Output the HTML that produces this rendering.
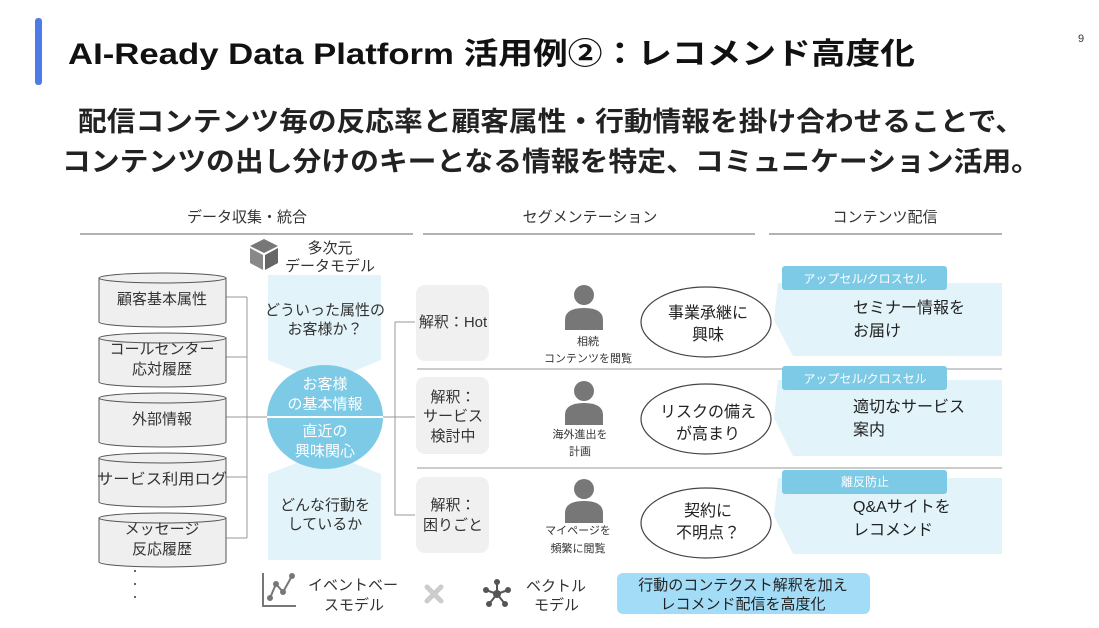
<!DOCTYPE html>
<html><head><meta charset="utf-8">
<style>
html,body{margin:0;padding:0;background:#fff;}
svg{display:block;font-family:"Liberation Sans","Noto Sans CJK JP",sans-serif;}
</style></head>
<body>
<svg width="1099" height="628" viewBox="0 0 1099 628" xmlns="http://www.w3.org/2000/svg">
<!-- title -->
<rect x="35" y="18" width="7" height="67" rx="3" fill="#4f7be8"/>
<text x="68" y="64" font-size="30" font-weight="bold" fill="#111" textLength="847" lengthAdjust="spacingAndGlyphs">AI-Ready Data Platform 活用例②：レコメンド高度化</text>
<text x="1078" y="42" font-size="11" fill="#333">9</text>
<text x="78" y="131" font-size="27" font-weight="bold" fill="#222" textLength="946" lengthAdjust="spacingAndGlyphs">配信コンテンツ毎の反応率と顧客属性・行動情報を掛け合わせることで、</text>
<text x="62" y="171" font-size="27" font-weight="bold" fill="#222" textLength="978" lengthAdjust="spacingAndGlyphs">コンテンツの出し分けのキーとなる情報を特定、コミュニケーション活用。</text>

<!-- headers -->
<g font-size="15" fill="#333" text-anchor="middle">
<text x="247" y="222">データ収集・統合</text>
<text x="590" y="222">セグメンテーション</text>
<text x="885" y="222">コンテンツ配信</text>
</g>
<g stroke="#666" stroke-width="1">
<line x1="80" y1="234" x2="413" y2="234"/>
<line x1="423" y1="234" x2="755" y2="234"/>
<line x1="769" y1="234" x2="1002" y2="234"/>
</g>

<!-- connectors left -->
<g stroke="#999" stroke-width="1" fill="none">
<line x1="226" y1="297" x2="247" y2="297"/>
<line x1="226" y1="357" x2="247" y2="357"/>
<line x1="226" y1="477" x2="247" y2="477"/>
<line x1="226" y1="538" x2="247" y2="538"/>
<line x1="247" y1="297" x2="247" y2="538"/>
<line x1="226" y1="417" x2="415" y2="417"/>
<polyline points="415,322 395,322 395,515 415,515"/>
</g>

<!-- cylinders -->
<g stroke="#555" stroke-width="1" fill="#efefef">
<path d="M99,278 v44 a63.5,5 0 0 0 127,0 v-44"/><ellipse cx="162.5" cy="278" rx="63.5" ry="5"/>
<path d="M99,338 v44 a63.5,5 0 0 0 127,0 v-44"/><ellipse cx="162.5" cy="338" rx="63.5" ry="5"/>
<path d="M99,398 v44 a63.5,5 0 0 0 127,0 v-44"/><ellipse cx="162.5" cy="398" rx="63.5" ry="5"/>
<path d="M99,458 v44 a63.5,5 0 0 0 127,0 v-44"/><ellipse cx="162.5" cy="458" rx="63.5" ry="5"/>
<path d="M99,518 v44 a63.5,5 0 0 0 127,0 v-44"/><ellipse cx="162.5" cy="518" rx="63.5" ry="5"/>
</g>
<g font-size="15" fill="#333" text-anchor="middle">
<text x="162" y="304">顧客基本属性</text>
<text x="162" y="354">コールセンター</text>
<text x="162" y="374">応対履歴</text>
<text x="162" y="424">外部情報</text>
<text x="162" y="484" textLength="130" lengthAdjust="spacingAndGlyphs">サービス利用ログ</text>
<text x="162" y="534">メッセージ</text>
<text x="162" y="554">反応履歴</text>
</g>
<g fill="#333"><circle cx="135" cy="571" r="1"/><circle cx="135" cy="584" r="1"/><circle cx="135" cy="597" r="1"/></g>

<!-- cube icon -->
<g fill="#777"><polygon points="264,239 278,246 264,253 250,246"/><polygon points="250,248 263,255 263,270 250,263" fill="#888"/><polygon points="265,255 278,248 278,263 265,270" fill="#666"/></g>
<g font-size="15" fill="#333" text-anchor="middle"><text x="330" y="253">多次元</text><text x="330" y="271">データモデル</text></g>

<!-- light blue column -->
<polygon points="268,275 381,275 381,360 325,383 268,360" fill="#e2f3f9"/>
<polygon points="268,474 325,452 381,474 381,560 268,560" fill="#e2f3f9"/>
<g font-size="15" fill="#333" text-anchor="middle">
<text x="325" y="315">どういった属性の</text>
<text x="325" y="334">お客様か？</text>
<text x="325" y="510">どんな行動を</text>
<text x="325" y="529">しているか</text>
</g>
<ellipse cx="325" cy="417" rx="58" ry="52" fill="#7ccae6"/>
<line x1="267" y1="417" x2="383" y2="417" stroke="#fff" stroke-width="2"/>
<g font-size="15" fill="#fff" text-anchor="middle">
<text x="325" y="389">お客様</text>
<text x="325" y="409">の基本情報</text>
<text x="325" y="436">直近の</text>
<text x="325" y="456">興味関心</text>
</g>

<!-- separators -->
<g stroke="#999" stroke-width="1">
<line x1="417" y1="369" x2="1002" y2="369"/>
<line x1="417" y1="468" x2="1002" y2="468"/>
</g>

<!-- interpretation boxes -->
<g fill="#f0f0f0">
<rect x="416" y="285" width="73" height="76" rx="9"/>
<rect x="416" y="377" width="73" height="77" rx="9"/>
<rect x="416" y="477" width="73" height="76" rx="9"/>
</g>
<g font-size="15" fill="#333" text-anchor="middle">
<text x="453" y="327">解釈：Hot</text>
<text x="453" y="402">解釈：</text><text x="453" y="421">サービス</text><text x="453" y="441">検討中</text>
<text x="453" y="510">解釈：</text><text x="453" y="530">困りごと</text>
</g>

<!-- persons -->
<g fill="#777">
<circle cx="584" cy="295" r="10"/><path d="M565,330 v-10 q0,-12 19,-12 q19,0 19,12 v10z"/>
<circle cx="584" cy="391" r="10"/><path d="M565,425 v-10 q0,-12 19,-12 q19,0 19,12 v10z"/>
<circle cx="584" cy="489" r="10"/><path d="M565,523 v-10 q0,-12 19,-12 q19,0 19,12 v10z"/>
</g>
<g font-size="11" fill="#333" text-anchor="middle">
<text x="588" y="345">相続</text><text x="588" y="362">コンテンツを閲覧</text>
<text x="580" y="438">海外進出を</text><text x="580" y="455">計画</text>
<text x="578" y="534">マイページを</text><text x="578" y="552">頻繁に閲覧</text>
</g>

<!-- ellipses -->
<g fill="#fff" stroke="#444" stroke-width="1.2">
<ellipse cx="706" cy="322" rx="65" ry="35"/>
<ellipse cx="706" cy="419" rx="65" ry="35"/>
<ellipse cx="706" cy="523" rx="65" ry="35"/>
</g>
<g font-size="16" fill="#222" text-anchor="middle">
<text x="708" y="318">事業承継に</text><text x="708" y="340">興味</text>
<text x="708" y="417">リスクの備え</text><text x="708" y="439">が高まり</text>
<text x="708" y="516">契約に</text><text x="708" y="538">不明点？</text>
</g>

<!-- content panels -->
<g fill="#e2f3f9">
<polygon points="778,283 1002,283 1002,356 793,356 774,320"/>
<polygon points="778,380 1002,380 1002,456 793,456 774,418"/>
<polygon points="778,478 1002,478 1002,554 793,554 774,516"/>
</g>
<g fill="#7ccae6">
<rect x="782" y="266" width="165" height="24" rx="3"/>
<rect x="782" y="366" width="165" height="24" rx="3"/>
<rect x="782" y="470" width="165" height="24" rx="3"/>
</g>
<g font-size="12" fill="#fff" text-anchor="middle">
<text x="865" y="283">アップセル/クロスセル</text>
<text x="865" y="383">アップセル/クロスセル</text>
<text x="865" y="486">離反防止</text>
</g>
<g font-size="16" fill="#222">
<text x="853" y="313">セミナー情報を</text><text x="853" y="336">お届け</text>
<text x="853" y="412">適切なサービス</text><text x="853" y="435">案内</text>
<text x="853" y="512">Q&amp;Aサイトを</text><text x="853" y="535">レコメンド</text>
</g>

<!-- bottom -->
<g stroke="#777" stroke-width="2" fill="none">
<polyline points="263,573 263,606 296,606"/>
<polyline points="270,598 276,584 283,592 292,576"/>
</g>
<g fill="#777"><circle cx="270" cy="598" r="3"/><circle cx="276" cy="584" r="3"/><circle cx="283" cy="592" r="3"/><circle cx="292" cy="576" r="3"/></g>
<g font-size="15" fill="#333"><text x="308" y="590">イベントベー</text><text x="324" y="610">スモデル</text></g>
<g stroke="#ccc" stroke-width="5" stroke-linecap="round"><line x1="427" y1="587" x2="441" y2="601"/><line x1="441" y1="587" x2="427" y2="601"/></g>
<g stroke="#555" stroke-width="2"><line x1="497" y1="594" x2="497" y2="582"/><line x1="497" y1="594" x2="486" y2="590"/><line x1="497" y1="594" x2="508" y2="590"/><line x1="497" y1="594" x2="489" y2="604"/><line x1="497" y1="594" x2="505" y2="604"/></g>
<g fill="#555"><circle cx="497" cy="594" r="4"/><circle cx="497" cy="582" r="3"/><circle cx="486" cy="590" r="3"/><circle cx="508" cy="590" r="3"/><circle cx="489" cy="604" r="3"/><circle cx="505" cy="604" r="3"/></g>
<g font-size="15" fill="#333"><text x="526" y="591">ベクトル</text><text x="534" y="610">モデル</text></g>
<rect x="617" y="573" width="253" height="41" rx="6" fill="#a3dcf7"/>
<g font-size="15" fill="#222" text-anchor="middle"><text x="743" y="590">行動のコンテクスト解釈を加え</text><text x="743" y="609">レコメンド配信を高度化</text></g>
</svg>
</body></html>
